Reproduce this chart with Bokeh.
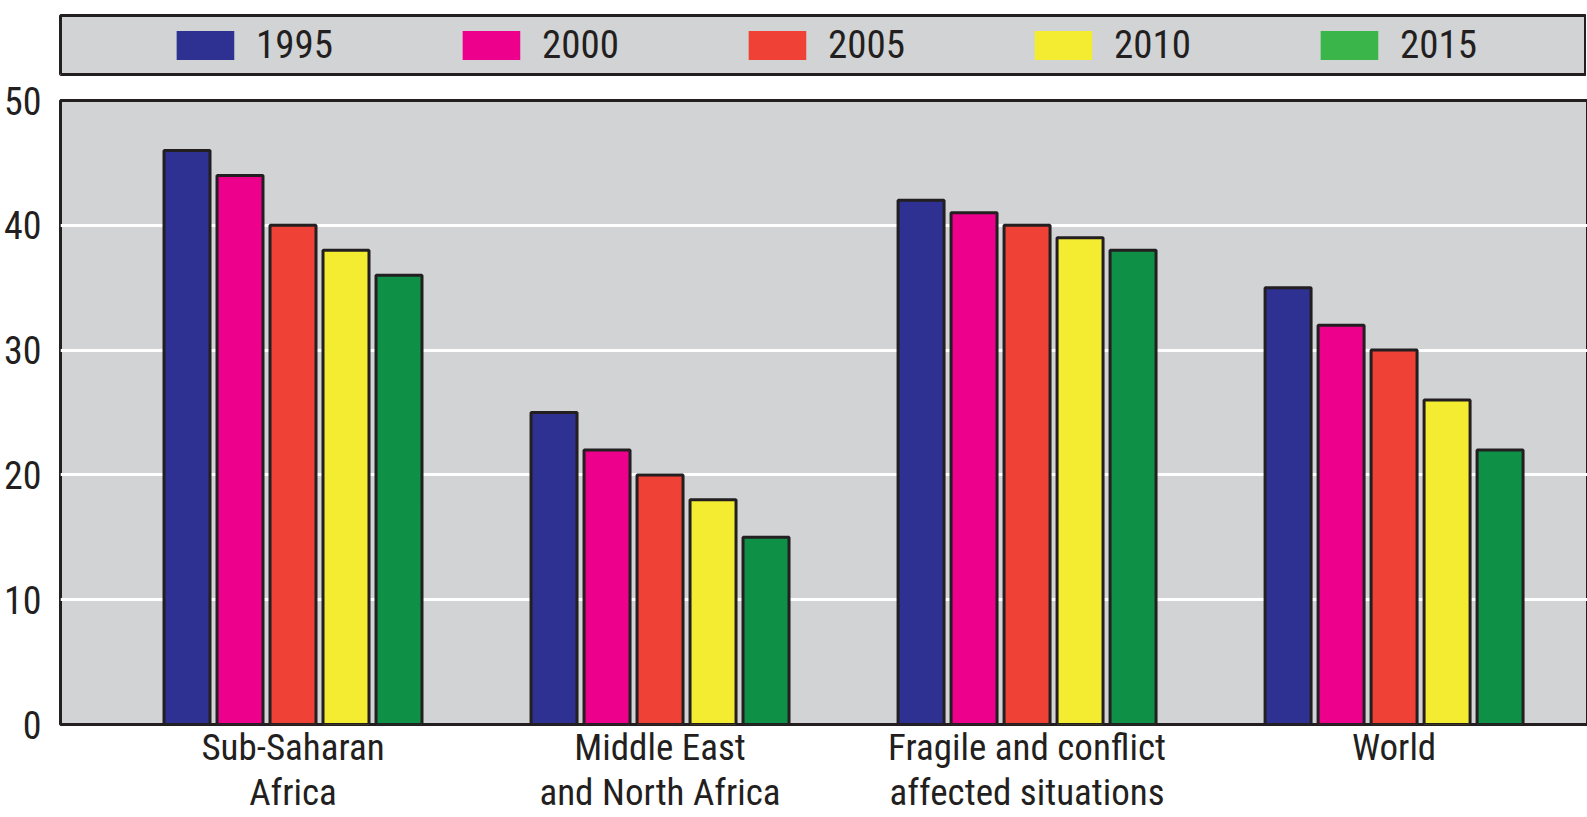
from bokeh.plotting import figure
from bokeh.models import (Legend, LegendItem, FixedTicker, Range1d, ColumnDataSource)
from bokeh.layouts import column
from bokeh.embed import file_html
from bokeh.resources import INLINE

# ---- data ----
regions = ["Sub-Saharan\nAfrica", "Middle East\nand North Africa",
           "Fragile and conflict\naffected situations", "World"]
years = ["1995", "2000", "2005", "2010", "2015"]
v1995 = [46, 25, 42, 35]
v2000 = [44, 22, 41, 32]
v2005 = [40, 20, 40, 30]
v2010 = [38, 18, 39, 26]
v2015 = [36, 15, 38, 22]
series = [v1995, v2000, v2005, v2010, v2015]
y_ticks = [0, 10, 20, 30, 40, 50]

# ---- styles ----
bar_colors = ["#2E3192", "#EC008C", "#EF4136", "#F4EC30", "#0E9146"]
legend_colors = ["#2E3192", "#EC008C", "#EF4136", "#F4EC30", "#3AB54A"]
FONT = "Liberation Sans Narrow, Roboto Condensed, DejaVu Sans Condensed, sans-serif"
TXT = "#231F20"
BG = "#D1D3D4"

STEP = 0.1444
BAR_W = 0.1253

# ---- legend figure (legend box) ----
leg = figure(frame_width=1526, frame_height=59,
             min_border_left=58, min_border_right=2, min_border_top=15, min_border_bottom=6,
             x_range=Range1d(100, 101), y_range=Range1d(100, 101),
             x_axis_location=None, y_axis_location=None,
             toolbar_location=None, output_backend="svg",
             background_fill_color=BG, border_fill_color="white",
             outline_line_color=TXT, outline_line_width=3)
leg.xgrid.visible = False
leg.ygrid.visible = False
items = []
for yr, vals, c in zip(years, series, legend_colors):
    # same data as the bars; kept outside this box's view, used only for the legend swatch
    r = leg.vbar(x=list(range(len(regions))), top=vals, width=BAR_W,
                 fill_color=c, line_alpha=0)
    items.append(LegendItem(label=yr, renderers=[r]))
legend = Legend(items=items, location="center", orientation="horizontal",
                glyph_width=72, glyph_height=36, label_standoff=15, label_width=76,
                spacing=122, padding=0, margin=0,
                border_line_alpha=0, background_fill_alpha=0,
                label_text_font=FONT, label_text_font_size="39px", label_text_color=TXT)
leg.add_layout(legend, "center")

# ---- main figure ----
p = figure(frame_width=1527, frame_height=624,
           min_border_left=58, min_border_right=1, min_border_top=20, min_border_bottom=60,
           x_range=Range1d(-0.6335, 3.527), y_range=Range1d(0, 50),
           toolbar_location=None, output_backend="svg",
           background_fill_color=BG, border_fill_color="white",
           outline_line_color=TXT, outline_line_width=3)

for j, (vals, c) in enumerate(zip(series, bar_colors)):
    xs = [i + (j - 2) * STEP for i in range(len(regions))]
    src = ColumnDataSource(dict(x=xs, top=vals))
    p.vbar(x="x", top="top", width=BAR_W, bottom=0, source=src,
           fill_color=c, line_color=TXT, line_width=3)

p.xgrid.visible = False
p.ygrid.ticker = FixedTicker(ticks=[t for t in y_ticks if 0 < t < 50])
p.ygrid.grid_line_color = "white"
p.ygrid.grid_line_width = 3

p.yaxis.ticker = FixedTicker(ticks=y_ticks)
p.yaxis.axis_line_color = None
p.yaxis.major_tick_line_color = None
p.yaxis.minor_tick_line_color = None
p.yaxis.major_tick_out = 0
p.yaxis.major_tick_in = 0
p.yaxis.major_label_standoff = 19
p.yaxis.major_label_text_font = FONT
p.yaxis.major_label_text_font_size = "38px"
p.yaxis.major_label_text_color = TXT

p.xaxis.ticker = FixedTicker(ticks=list(range(len(regions))))
p.xaxis.major_label_overrides = {i: r for i, r in enumerate(regions)}
p.xaxis.axis_line_color = None
p.xaxis.major_tick_line_color = None
p.xaxis.minor_tick_line_color = None
p.xaxis.major_tick_out = 0
p.xaxis.major_tick_in = 0
p.xaxis.major_label_standoff = 1
p.xaxis.major_label_text_font = FONT
p.xaxis.major_label_text_font_size = "37px"
p.xaxis.major_label_text_color = TXT
p.xaxis.major_label_text_line_height = 1.05

layout = column(leg, p, spacing=0)
open("out.html", "w").write(file_html(layout, INLINE))
